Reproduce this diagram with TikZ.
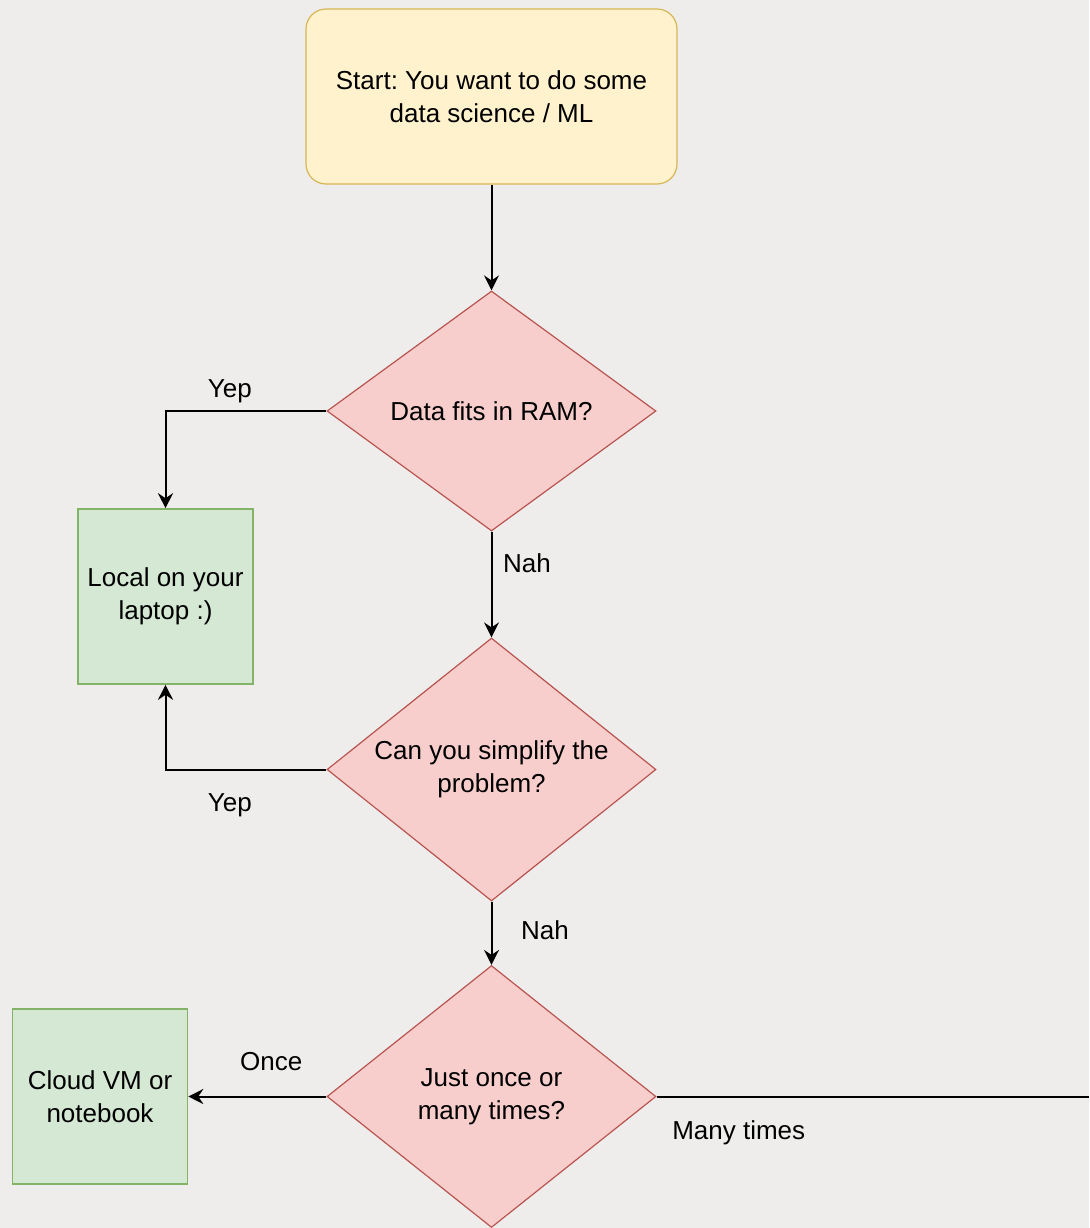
\documentclass[tikz,border=0pt]{standalone}
\usepackage{fontspec}
\setmainfont{Liberation Sans}
\usetikzlibrary{shapes.geometric,arrows.meta,positioning}

\definecolor{bgc}{HTML}{EEEDEB}
\definecolor{startfill}{HTML}{FFF2CC}
\definecolor{startdraw}{HTML}{D6B656}
\definecolor{qfill}{HTML}{F8CECC}
\definecolor{qdraw}{HTML}{B85450}
\definecolor{endfill}{HTML}{D5E8D4}
\definecolor{enddraw}{HTML}{82B366}

\begin{document}
\frenchspacing
\begin{tikzpicture}[x=0.5pt, y=-0.5pt,
  start/.style={rectangle, draw=startdraw, fill=startfill, line width=0.6pt, minimum width=185.5pt, minimum height=87.5pt, rounded corners=10pt, align=center, font=\fontsize{13}{16.5}\selectfont},
  question/.style={diamond, draw=qdraw, fill=qfill, line width=0.6pt, aspect=1.25, minimum width=164.5pt, inner sep=0pt, align=center, font=\fontsize{13}{16.5}\selectfont},
  result/.style={rectangle, draw=enddraw, fill=endfill, line width=0.8pt, minimum width=87.5pt, minimum height=87.5pt, inner sep=0pt, align=center, font=\fontsize{13}{16.5}\selectfont},
  arr/.style={-{Stealth[length=7.5pt, width=7.5pt, inset=2.5pt]}, line width=1pt},
  lab/.style={font=\fontsize{13}{14}\selectfont}
]
\fill[bgc] (0,0) rectangle (1089,1228);
\useasboundingbox (0,0) rectangle (1089,1228);

\node[start] (start) at (491.5,96.5) {Start: You want to do some\\data science / ML};
\node[question, minimum height=120pt] (ram) at (491.5,411) {Data fits in RAM?};
\node[question, minimum height=131.5pt] (simp) at (491.5,769.5) {Can you simplify the\\problem?};
\node[question, minimum height=131pt] (times) at (491.5,1096.5) {Just once or\\many times?};
\node[result] (laptop) at (165.5,596.5) {Local on your\\laptop :)};
\node[result] (cloud) at (100,1096.5) {Cloud VM or\\notebook};
\coordinate (offedge) at (1089,1096.5);

\draw[arr] (start) -- (ram);
\draw[arr] (ram.west) -| node[pos=0.3, above, lab] {Yep} (laptop.north);
\draw[arr] (ram) -- node[pos=0.3, right=2pt, lab] {Nah} (simp);
\draw[arr] (simp.west) -| node[pos=0.3, below=8pt, lab] {Yep} (laptop.south);
\draw[arr] (simp) -- node[pos=0.45, right=11pt, lab] {Nah} (times);
\draw[arr] (times.west) -- node[pos=0.4, above=9pt, lab] {Once} (cloud.east);
\draw[line width=1pt] (times.east) -- node[pos=0.19, below=8pt, lab] {Many times} (offedge);
\end{tikzpicture}
\end{document}
